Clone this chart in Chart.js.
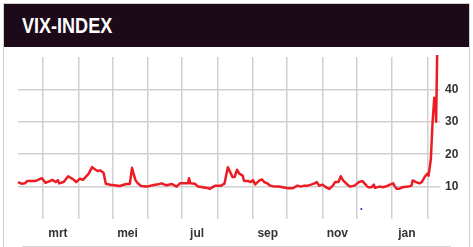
<!DOCTYPE html>
<html lang="nl">
<head>
    <meta charset="UTF-8">
    <title>VIX-INDEX</title>
    <script src="https://cdn.jsdelivr.net/npm/chart.js"></script>
    <style>
        body { margin: 0; background: #fff; }
        #frame { position: absolute; left: 3px; top: 3px; width: 465px; height: 250px;
                 border: 1px solid #cfcfcf; border-bottom: none; }
        #header { position: absolute; left: 4px; top: 4px; width: 465px; height: 43px; background: #1d0a19; }
        #title { position: absolute; left: 18px; top: 9px; color: #fff; white-space: nowrap;
                 font: bold 22px "Liberation Sans", Arial, sans-serif;
                 transform: scaleX(0.82); transform-origin: left top; }
        #baseline { position: absolute; left: 22px; top: 246px; width: 429px; height: 1px; background: #d6d6d6; }
        #wrap { position: absolute; left: 0; top: 0; width: 473px; height: 247px; }
    </style>
</head>
<body>
    <div id="frame"></div>
    <div id="header"><div id="title">VIX-INDEX</div></div>
    <div id="baseline"></div>
    <div id="wrap"><canvas id="chart" width="473" height="247"></canvas></div>
    <script>
        // days counted from 1 March (first year), VIX closes
        const days = [-22, -19, -16, -14, -7, -1, 2, 6, 8, 11, 13, 14, 18, 22, 27, 29, 32, 35, 40, 43,
            46, 48, 50, 53, 55, 59, 67, 73, 76, 78, 79, 81, 83, 86, 91, 97, 101, 104, 108, 113,
            117, 120, 127, 128, 129, 133, 136, 140, 145, 146, 151, 156, 159, 162, 164, 166, 168, 170, 172, 175,
            176, 177, 180, 182, 184, 186, 190, 192, 194, 197, 199, 203, 207, 210, 215, 219, 223, 226, 229, 232,
            235, 238, 240, 242, 245, 248, 251, 254, 256, 259, 261, 263, 266, 269, 273, 277, 280, 282, 285, 288,
            290, 291, 295, 298, 301, 304, 307, 308, 310, 312, 315, 320, 323, 324, 327, 330, 332, 335, 337, 338,
            340, 341.5, 343, 344, 344.6, 345.5];
        const vix = [11.4, 10.9, 11.0, 11.7, 11.7, 12.6, 11.2, 11.7, 12.1, 11.4, 12.0, 11.0, 11.4, 13.2, 12.1, 11.4, 12.4, 12.1, 14.0, 16.0,
            15.2, 14.8, 15.0, 14.3, 10.9, 10.6, 10.2, 10.8, 10.8, 15.8, 14.4, 12.0, 11.0, 10.2, 10.0, 10.5, 10.7, 11.0, 10.4, 10.8,
            10.0, 11.0, 11.0, 12.6, 11.0, 10.9, 10.0, 9.8, 9.5, 9.3, 10.3, 10.3, 10.9, 16.0, 14.5, 13.0, 13.0, 15.2, 14.0, 13.4,
            11.9, 11.7, 11.7, 11.4, 12.0, 10.7, 12.0, 12.2, 11.4, 10.9, 10.3, 10.0, 10.0, 9.8, 9.5, 9.5, 10.3, 10.0, 10.3, 10.3,
            10.6, 11.0, 11.4, 10.3, 10.6, 9.8, 9.3, 10.3, 11.4, 11.4, 13.2, 11.9, 10.9, 10.0, 10.3, 11.4, 11.7, 10.9, 9.8, 9.8,
            10.6, 9.6, 10.0, 9.8, 10.1, 10.6, 11.0, 10.3, 9.3, 9.3, 9.8, 10.0, 10.3, 11.9, 11.4, 11.0, 11.4, 13.2, 14.0, 13.4,
            18.6, 30.0, 37.4, 37.0, 30.0, 50.6];

        const monthStarts = [0, 31, 61, 92, 122, 153, 184, 214, 245, 275, 306, 337];
        const monthLabels = ['mrt', 'mei', 'jul', 'sep', 'nov', 'jan'];
        const labelDays = [13, 74, 135, 197, 258, 319];
        const yTicks = [10, 20, 30, 40];
        const stray = [{ x: 279, y: 3.1 }];

        const axisFont = { family: '"Liberation Sans", Arial, sans-serif', size: 12, weight: 'bold' };

        const ctx = document.getElementById('chart').getContext('2d');
        const chart = new Chart(ctx, {
            type: 'line',
            data: {
                datasets: [{
                    data: days.map((d, i) => ({ x: d, y: vix[i] })),
                    borderColor: '#ec1c24',
                    borderWidth: 2.5,
                    pointRadius: 0,
                    tension: 0,
                    borderJoinStyle: 'round',
                    clip: false
                }, {
                    data: stray,
                    showLine: false,
                    pointRadius: 1,
                    pointBorderWidth: 0,
                    pointBackgroundColor: '#2222ee'
                }]
            },
            options: {
                responsive: false,
                animation: false,
                layout: { padding: { left: 18, top: 57, right: 0, bottom: 0 } },
                plugins: { legend: { display: false }, tooltip: { enabled: false } },
                scales: {
                    x: {
                        type: 'linear',
                        min: -22,
                        max: 348,
                        afterFit: s => { s.height = 28; },
                        afterBuildTicks: s => {
                            s.ticks = monthStarts.concat(labelDays).map(v => ({ value: v }));
                        },
                        grid: {
                            drawTicks: false,
                            color: c => (c.index < monthStarts.length ? '#d0d0d0' : 'rgba(0,0,0,0)'),
                            lineWidth: 1.5
                        },
                        border: { display: false },
                        ticks: {
                            autoSkip: false,
                            maxRotation: 0,
                            padding: 7,
                            color: '#333',
                            font: axisFont,
                            callback: (v, i) => (i >= monthStarts.length ? monthLabels[i - monthStarts.length] : '')
                        }
                    },
                    y: {
                        position: 'right',
                        min: 0,
                        max: 50,
                        afterFit: s => { s.width = 33; },
                        afterBuildTicks: s => { s.ticks = yTicks.map(v => ({ value: v })); },
                        grid: { drawTicks: false, color: '#d0d0d0', lineWidth: 1.5 },
                        border: { display: false },
                        ticks: { padding: 5, color: '#333', font: axisFont }
                    }
                }
            }
        });
    </script>
</body>
</html>
